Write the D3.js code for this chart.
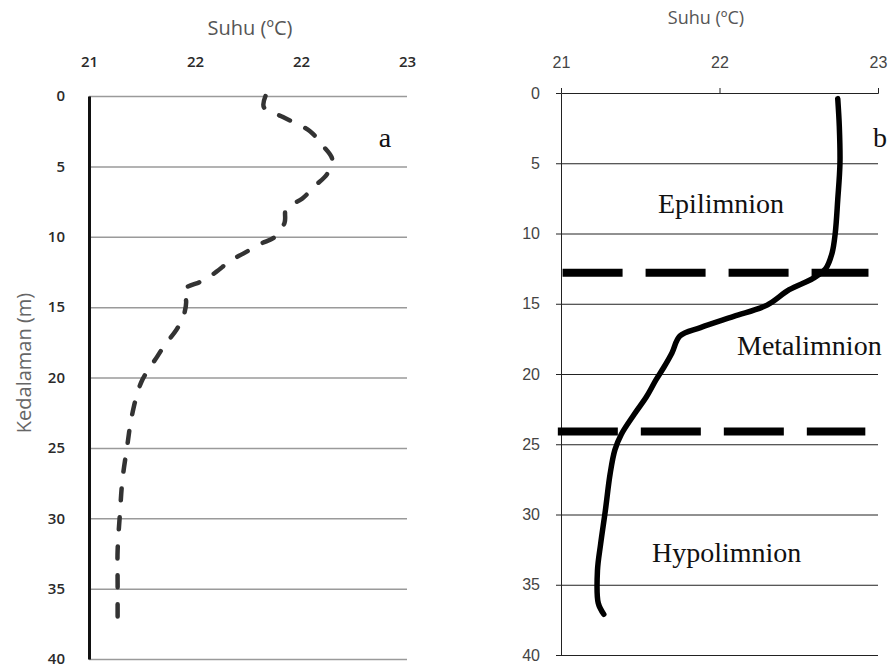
<!DOCTYPE html>
<html>
<head>
<meta charset="utf-8">
<script src="https://cdn.jsdelivr.net/npm/d3@7"></script>
<style>
  body { margin: 0; background: #fff; }
</style>
</head>
<body>
<div id="chart"></div>
<script>
// depth profiles (depth in m, temperature in deg C)
const depthA = [0, 0.8, 1.5, 2.5, 3.4, 4.5, 5.5, 6.4, 7.3, 8.0, 9.0, 10, 10.5, 11.2, 11.7, 12.5, 13.1, 13.7, 14.1, 14.5, 15.8, 16.6, 17.8, 18.5, 20.3, 22.7, 24.9, 27.3, 29.6, 32.3, 34.6, 37.0];
const tempA  = [22.11, 22.10, 22.22, 22.39, 22.46, 22.53, 22.50, 22.42, 22.34, 22.24, 22.23, 22.17, 22.08, 21.97, 21.89, 21.80, 21.72, 21.60, 21.59, 21.61, 21.59, 21.55, 21.47, 21.43, 21.33, 21.27, 21.24, 21.21, 21.195, 21.18, 21.18, 21.18];

const depthB = [0.4, 2.4, 5.0, 7.6, 10, 11.4, 12.5, 13.2, 14, 15.1, 15.9, 16.7, 17.3, 18.5, 19.5, 20.4, 21.6, 22.9, 24.3, 25.4, 27.1, 29.7, 32.1, 34, 36.3, 37.1];
const tempB  = [22.746, 22.756, 22.76, 22.746, 22.73, 22.71, 22.67, 22.59, 22.44, 22.30, 22.09, 21.88, 21.75, 21.70, 21.65, 21.60, 21.54, 21.46, 21.38, 21.34, 21.31, 21.28, 21.25, 21.23, 21.235, 21.27];

// layer boundaries (depth) and the temperature span of each dashed bar
const boundaryDepth = [12.8, 24.1];
const boundaryFrom  = [21.01, 20.98];
const boundaryTo    = [22.94, 22.92];

const zoneNames = ["Epilimnion", "Metalimnion", "Hypolimnion"];

const depthTicks = d3.range(0, 41, 5);
const tempTicksA = [21, 21 + 2/3, 21 + 4/3, 23];
const tempTicksB = [21, 22, 23];

const width = 894;
const height = 666;

const svg = d3.select("#chart")
  .append("svg")
  .attr("width", width)
  .attr("height", height);

// ---------- panel a ----------
const xA = d3.scaleLinear().domain([21, 23]).range([89, 407]);
const yA = d3.scaleLinear().domain([0, 40]).range([96, 659]);

// grid
const gridA = svg.append("g")
  .attr("transform", `translate(${xA(21)},0)`)
  .call(d3.axisLeft(yA).tickValues(depthTicks).tickSize(-(xA(23) - xA(21))).tickFormat(""));
gridA.select(".domain").remove();
gridA.selectAll("line").attr("stroke", "#9a9a9a").attr("stroke-width", 1.5);

// y axis (thick) + labels
const axA = svg.append("g")
  .attr("transform", `translate(${xA(21)},0)`)
  .call(d3.axisLeft(yA).tickValues(depthTicks).tickSize(0).tickPadding(24));
axA.select(".domain").attr("stroke", "#111").attr("stroke-width", 3);
axA.selectAll("text")
  .style("font-family", "'Open Sans', sans-serif")
  .style("font-size", "15px")
  .style("font-weight", "600")
  .attr("fill", "#2a2a2a");

// top labels
const axAx = svg.append("g")
  .attr("transform", `translate(0,${yA(0)})`)
  .call(d3.axisTop(xA).tickValues(tempTicksA).tickFormat(d3.format(".0f")).tickSize(0).tickPadding(29));
axAx.select(".domain").remove();
axAx.selectAll("text")
  .style("font-family", "'Open Sans', sans-serif")
  .style("font-size", "15px")
  .style("font-weight", "600")
  .attr("fill", "#2a2a2a");

svg.append("text")
  .attr("x", 250)
  .attr("y", 35)
  .attr("text-anchor", "middle")
  .style("font-family", "'Open Sans', sans-serif")
  .style("font-size", "20px")
  .attr("fill", "#555")
  .text("Suhu (ºC)");

svg.append("text")
  .attr("transform", "rotate(-90)")
  .attr("x", -363)
  .attr("y", 31)
  .attr("text-anchor", "middle")
  .style("font-family", "'Open Sans', sans-serif")
  .style("font-size", "20px")
  .attr("fill", "#666")
  .text("Kedalaman (m)");

const lineA = d3.line()
  .x((d, i) => xA(tempA[i]))
  .y(d => yA(d))
  .curve(d3.curveCatmullRom);

svg.append("path")
  .datum(depthA)
  .attr("d", lineA)
  .attr("fill", "none")
  .attr("stroke", "#333")
  .attr("stroke-width", 4.5)
  .attr("stroke-linecap", "round")
  .attr("stroke-dasharray", "12,17");

svg.append("text")
  .attr("x", 385)
  .attr("y", 147)
  .attr("text-anchor", "middle")
  .style("font-family", "'Liberation Serif', serif")
  .style("font-size", "28px")
  .attr("fill", "#111")
  .text("a");

// ---------- panel b ----------
const xB = d3.scaleLinear().domain([21, 23]).range([561, 878]);
const yB = d3.scaleLinear().domain([0, 40]).range([93, 655]);

const gridB = svg.append("g")
  .attr("transform", `translate(${xB(21)},0)`)
  .call(d3.axisLeft(yB).tickValues(depthTicks.slice(1)).tickSize(-(xB(23) - xB(21))).tickFormat(""));
gridB.select(".domain").remove();
gridB.selectAll("line").attr("stroke", "#222").attr("stroke-width", 1);

const axB = svg.append("g")
  .attr("transform", `translate(${xB(21)},0)`)
  .call(d3.axisLeft(yB).tickValues(depthTicks).tickSize(5).tickSizeOuter(0).tickPadding(16));
axB.selectAll("path, line").attr("stroke", "#222");
axB.selectAll("text")
  .style("font-family", "'Liberation Sans', Arial, sans-serif")
  .style("font-size", "16px")
  .attr("fill", "#444");

const axBx = svg.append("g")
  .attr("transform", `translate(0,${yB(0)})`)
  .call(d3.axisTop(xB).tickValues(tempTicksB).tickFormat(d3.format(".0f")).tickSize(5).tickPadding(20));
axBx.selectAll("path, line").attr("stroke", "#222");
axBx.selectAll("text")
  .style("font-family", "'Liberation Sans', Arial, sans-serif")
  .style("font-size", "16px")
  .attr("fill", "#444");

svg.append("text")
  .attr("x", 706)
  .attr("y", 24)
  .attr("text-anchor", "middle")
  .style("font-family", "'Open Sans', sans-serif")
  .style("font-size", "18px")
  .attr("fill", "#555")
  .text("Suhu (ºC)");

// boundaries
svg.selectAll(".boundary")
  .data(boundaryDepth)
  .join("line")
  .attr("class", "boundary")
  .attr("x1", (d, i) => xB(boundaryFrom[i]))
  .attr("x2", (d, i) => xB(boundaryTo[i]))
  .attr("y1", d => yB(d))
  .attr("y2", d => yB(d))
  .attr("stroke", "#000")
  .attr("stroke-width", 8)
  .attr("stroke-dasharray", "60,23");

const lineB = d3.line()
  .x((d, i) => xB(tempB[i]))
  .y(d => yB(d))
  .curve(d3.curveCatmullRom);

svg.append("path")
  .datum(depthB)
  .attr("d", lineB)
  .attr("fill", "none")
  .attr("stroke", "#000")
  .attr("stroke-width", 5.5)
  .attr("stroke-linecap", "round")
  .attr("stroke-linejoin", "round");

const zoneX = [658, 737, 652];
const zoneY = [213, 355, 562];
svg.selectAll(".zone")
  .data(zoneNames)
  .join("text")
  .attr("class", "zone")
  .attr("x", (d, i) => zoneX[i])
  .attr("y", (d, i) => zoneY[i])
  .style("font-family", "'Liberation Serif', serif")
  .style("font-size", "28px")
  .attr("fill", "#111")
  .text(d => d);

svg.append("text")
  .attr("x", 880)
  .attr("y", 147)
  .attr("text-anchor", "middle")
  .style("font-family", "'Liberation Serif', serif")
  .style("font-size", "28px")
  .attr("fill", "#111")
  .text("b");
</script>
</body>
</html>
